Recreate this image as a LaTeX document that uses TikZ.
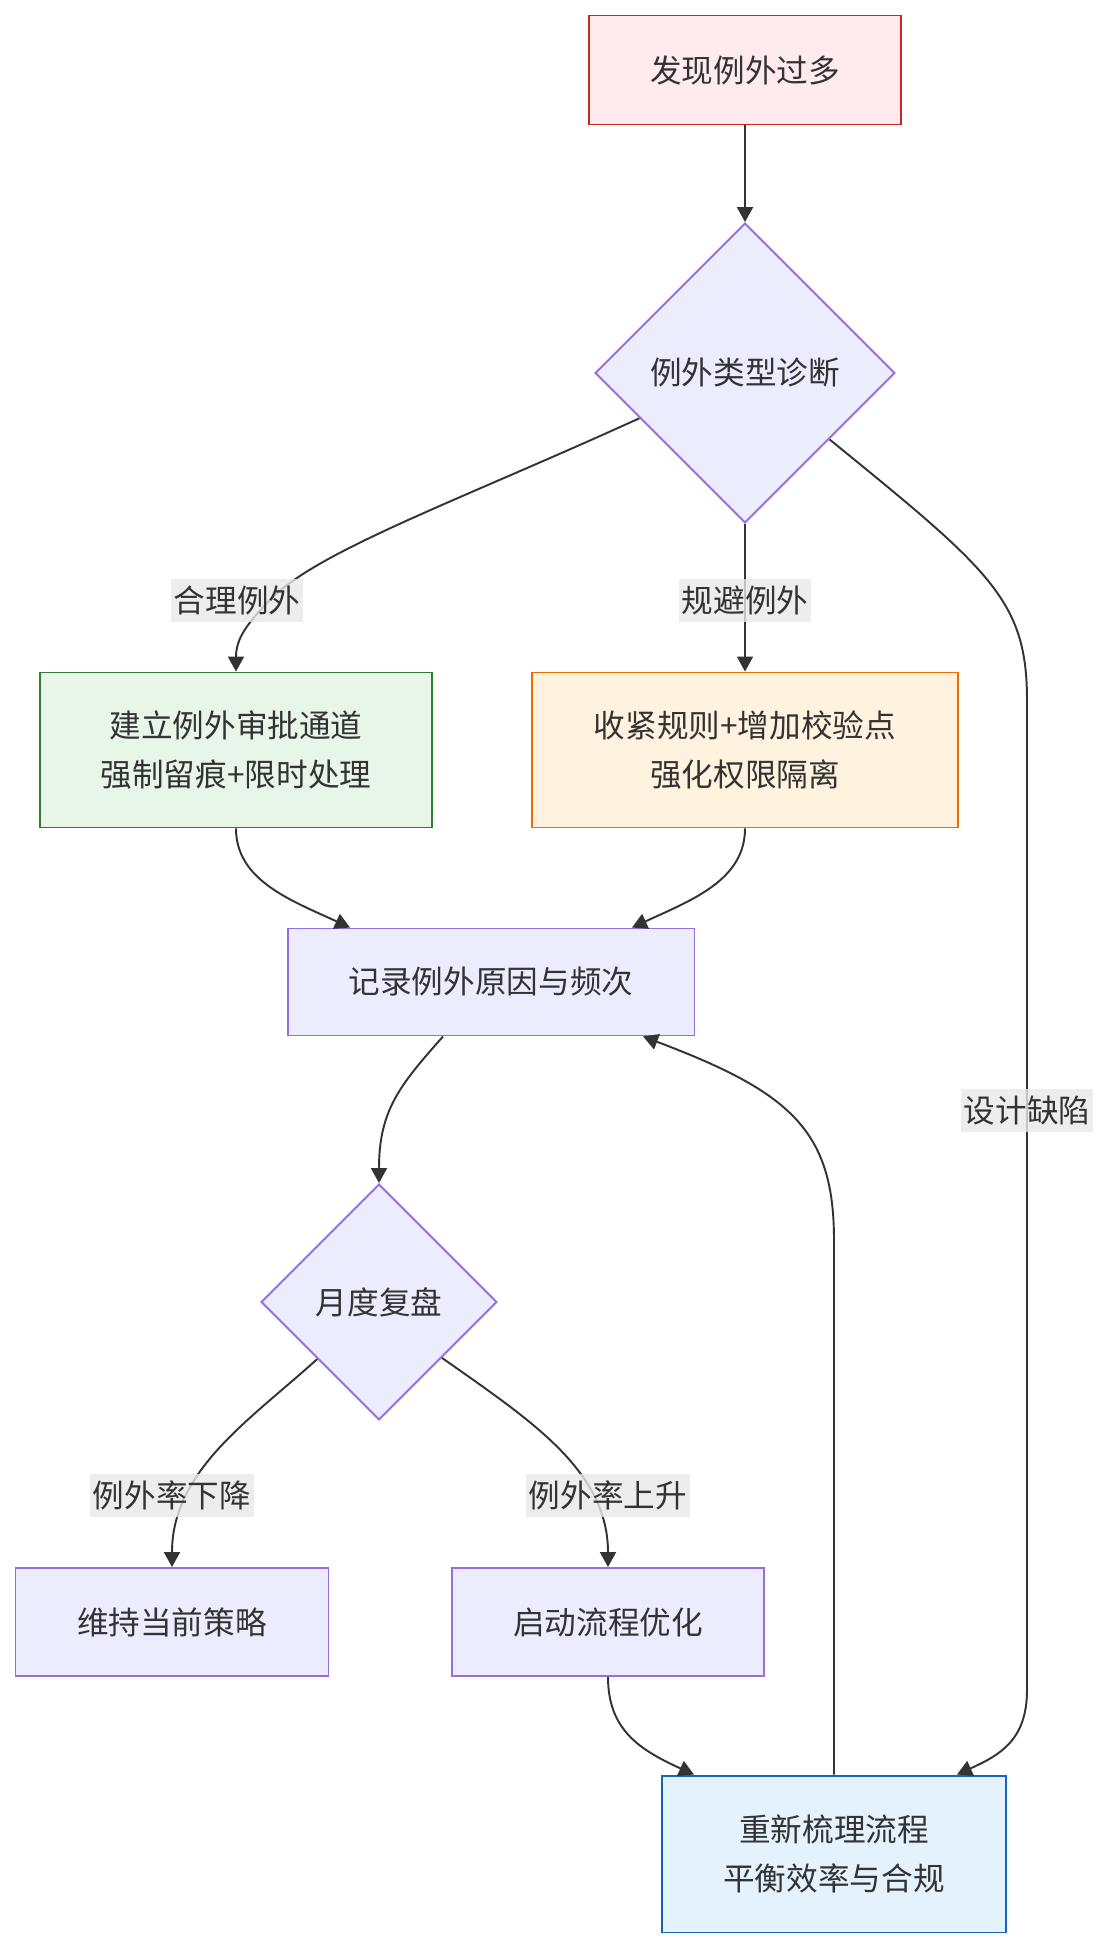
\documentclass[tikz,border=0pt]{standalone}
\usepackage{fontspec}
\setmainfont{Noto Sans CJK SC}
\usepackage{xcolor}
\usetikzlibrary{arrows.meta,calc,shapes.geometric}
\definecolor{txt}{HTML}{333333}
\definecolor{defF}{HTML}{ECECFF}
\definecolor{defD}{HTML}{9370DB}
\definecolor{redF}{HTML}{FFEBEE}
\definecolor{redD}{HTML}{C62828}
\definecolor{grnF}{HTML}{E8F5E9}
\definecolor{grnD}{HTML}{2E7D32}
\definecolor{orgF}{HTML}{FFF3E0}
\definecolor{orgD}{HTML}{EF6C00}
\definecolor{bluF}{HTML}{E3F2FD}
\definecolor{bluD}{HTML}{1565C0}
\definecolor{lblbg}{HTML}{E8E8E8}
\tikzset{
  proc/.style={draw=defD,fill=defF,line width=1.1pt,align=center,text=txt,inner sep=0pt,font=\fontsize{18}{27.6}\selectfont},
  dec/.style={proc,shape=diamond,aspect=1},
  lbl/.style={fill=lblbg,fill opacity=0.8,text opacity=1,text=txt,inner xsep=1.5pt,inner ysep=0pt,minimum height=0.86cm,font=\fontsize{18}{22}\selectfont},
  arr/.style={-{Triangle[length=3mm,width=3.2mm]},line width=1.1pt,draw=txt},
}
\begin{document}
\begin{tikzpicture}[x=0.02cm,y=-0.02cm]
  \useasboundingbox (0,0) rectangle (1107,1948);
  \node[proc,draw=redD,fill=redF,minimum width=6.24cm,minimum height=2.18cm] (top) at (745,70) {发现例外过多};
  \node[dec,minimum width=6cm,minimum height=6cm] (d1) at (745,373) {例外类型诊断};
  \node[proc,draw=grnD,fill=grnF,minimum width=7.84cm,minimum height=3.1cm] (ok) at (236,750) {建立例外审批通道\\强制留痕+限时处理};
  \node[proc,draw=orgD,fill=orgF,minimum width=8.52cm,minimum height=3.1cm] (ev) at (745,750) {收紧规则+增加校验点\\强化权限隔离};
  \node[proc,minimum width=8.14cm,minimum height=2.14cm] (rec) at (491,982) {记录例外原因与频次};
  \node[dec,minimum width=4.72cm,minimum height=4.72cm] (d2) at (379,1302) {月度复盘};
  \node[proc,minimum width=6.26cm,minimum height=2.16cm] (keep) at (172,1622) {维持当前策略};
  \node[proc,minimum width=6.24cm,minimum height=2.16cm] (opt) at (608,1622) {启动流程优化};
  \node[proc,draw=bluD,fill=bluF,minimum width=6.88cm,minimum height=3.14cm] (rs) at (834,1854) {重新梳理流程\\平衡效率与合规};
  \draw[arr] (top) -- (d1.north);
  \draw[arr] ($(d1.west)!0.3!(d1.south)$) .. controls (460,500) and (320,550) .. (272,598)
    node[lbl] (l1) at (237,600) {合理例外} .. controls (245,625) and (236,640) .. (ok.north);
  \draw[arr] (d1.south) -- (ev.north) node[lbl] (l2) at (745,600) {规避例外};
  \draw[arr] ($(d1.east)!0.44!(d1.south)$) .. controls (990,570) and (1027,600) .. (1027,700)
    -- (1027,1690) node[lbl] (l3) at (1027,1110) {设计缺陷}
    .. controls (1027,1740) and (1000,1755) .. ([xshift=2.46cm]rs.north);
  \draw[arr] (ok.south) .. controls (236,880) and (290,900) .. ([xshift=-2.82cm]rec.north);
  \draw[arr] (ev.south) .. controls (745,880) and (692,900) .. ([xshift=2.82cm]rec.north);
  \draw[arr] ([xshift=-0.96cm]rec.south) .. controls (400,1085) and (379,1110) .. (d2.north);
  \draw[arr] ($(d2.west)!0.48!(d2.south)$) .. controls (250,1420) and (172,1470) .. (keep.north)
    node[lbl] (l4) at (172,1495) {例外率下降};
  \draw[arr] ($(d2.east)!0.47!(d2.south)$) .. controls (530,1420) and (608,1470) .. (opt.north)
    node[lbl] (l5) at (608,1495) {例外率上升};
  \draw[arr] (opt.south) .. controls (608,1730) and (640,1750) .. ([xshift=-2.8cm]rs.north);
  \draw[arr] (rs.north) -- (834,1240) .. controls (834,1130) and (790,1092) .. ([xshift=3.04cm]rec.south);
\end{tikzpicture}
\end{document}
